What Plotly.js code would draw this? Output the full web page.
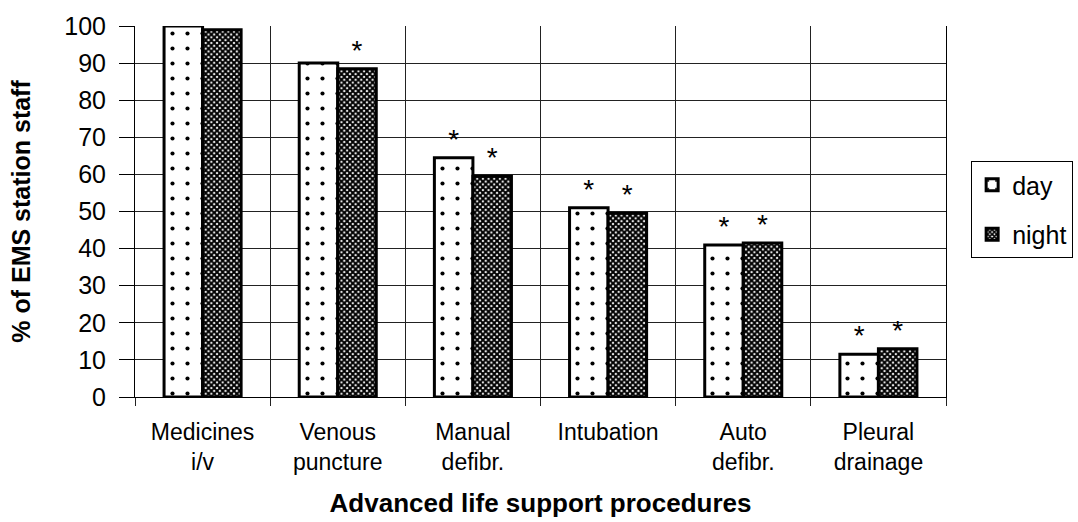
<!DOCTYPE html>
<html>
<head>
<meta charset="utf-8">
<script src="https://cdn.plot.ly/plotly-3.0.1.min.js"></script>
<style>html,body{margin:0;padding:0;background:#fff;overflow:hidden;}#chart{width:1078px;height:522px;}</style>
</head>
<body>
<div id="chart"></div>
<script>
const categories = ["Medicines<br>i/v", "Venous<br>puncture", "Manual<br>defibr.", "Intubation", "Auto<br>defibr.", "Pleural<br>drainage"];
const dayValues = [100, 90, 64.5, 51, 41, 11.5];
const nightValues = [99, 88.5, 59.5, 49.5, 41.5, 13];
const dayMarks = ["", "", "*", "*", "*", "*"];
const nightMarks = ["", "*", "*", "*", "*", "*"];
const yTicks = [0, 10, 20, 30, 40, 50, 60, 70, 80, 90, 100];

const FONT = "Liberation Sans, Arial, sans-serif";

const traces = [
  {
    type: "bar", name: "day", legendgroup: "d", x: categories, y: dayValues,
    text: dayMarks, textposition: "outside", cliponaxis: false,
    textfont: {family: FONT, size: 28, color: "#000"},
    marker: {color: "#fff", line: {color: "#000", width: 3},
      pattern: {shape: ".", fgcolor: "#000", bgcolor: "#fff", size: 15, solidity: 0.06}}
  },
  {
    type: "bar", name: "night", legendgroup: "n", x: categories, y: nightValues,
    text: nightMarks, textposition: "outside", cliponaxis: false,
    textfont: {family: FONT, size: 28, color: "#000"},
    marker: {color: "#000", line: {color: "#000", width: 3},
      pattern: {shape: "x", fgcolor: "#000", bgcolor: "#fff", size: 4, solidity: 0.75}}
  },
  {
    type: "scatter", x: [0], y: [0], xaxis: "x2", yaxis: "y",
    mode: "markers", marker: {opacity: 0}, showlegend: false, hoverinfo: "skip"
  }
];

const layout = {
  width: 1078, height: 522,
  margin: {l: 135, r: 132, t: 26, b: 125, autoexpand: false},
  paper_bgcolor: "#fff", plot_bgcolor: "#fff",
  font: {family: FONT, color: "#000"},
  barmode: "group", bargap: 0.43, bargroupgap: 0,
  showlegend: true,
  legend: {x: 1.031, xanchor: "left", y: 0.636, yanchor: "top",
    bordercolor: "#000", borderwidth: 1, bgcolor: "#fff",
    font: {family: FONT, size: 25, color: "#000"}, tracegroupgap: 14, itemwidth: 30,
    entrywidth: 115},
  xaxis: {
    type: "category", showgrid: false, ticks: "", showline: true, linecolor: "#000", linewidth: 1,
    tickfont: {family: FONT, size: 23, color: "#000"}, ticklabelstandoff: 14,
    title: {text: "<b>Advanced life support procedures</b>", font: {family: FONT, size: 26, color: "#000"}, standoff: 20}
  },
  xaxis2: {
    overlaying: "x", anchor: "y", side: "bottom", range: [-0.5, 5.5],
    tick0: 0.5, dtick: 1, showgrid: true, gridcolor: "#222", gridwidth: 1,
    ticks: "outside", ticklen: 8, tickcolor: "#222", showticklabels: false,
    showline: false, zeroline: false
  },
  yaxis: {
    range: [0, 100], tickvals: yTicks, showgrid: true, gridcolor: "#222", gridwidth: 1,
    showline: true, linecolor: "#000", linewidth: 1, mirror: true,
    ticks: "outside", ticklen: 15, tickcolor: "#000", zeroline: false,
    tickfont: {family: FONT, size: 25, color: "#000"}, ticklabelstandoff: 8,
    title: {text: "<b>% of EMS station staff</b>", font: {family: FONT, size: 25, color: "#000"}, standoff: 26}
  }
};

Plotly.newPlot("chart", traces, layout, {staticPlot: true, displayModeBar: false});
</script>
</body>
</html>
